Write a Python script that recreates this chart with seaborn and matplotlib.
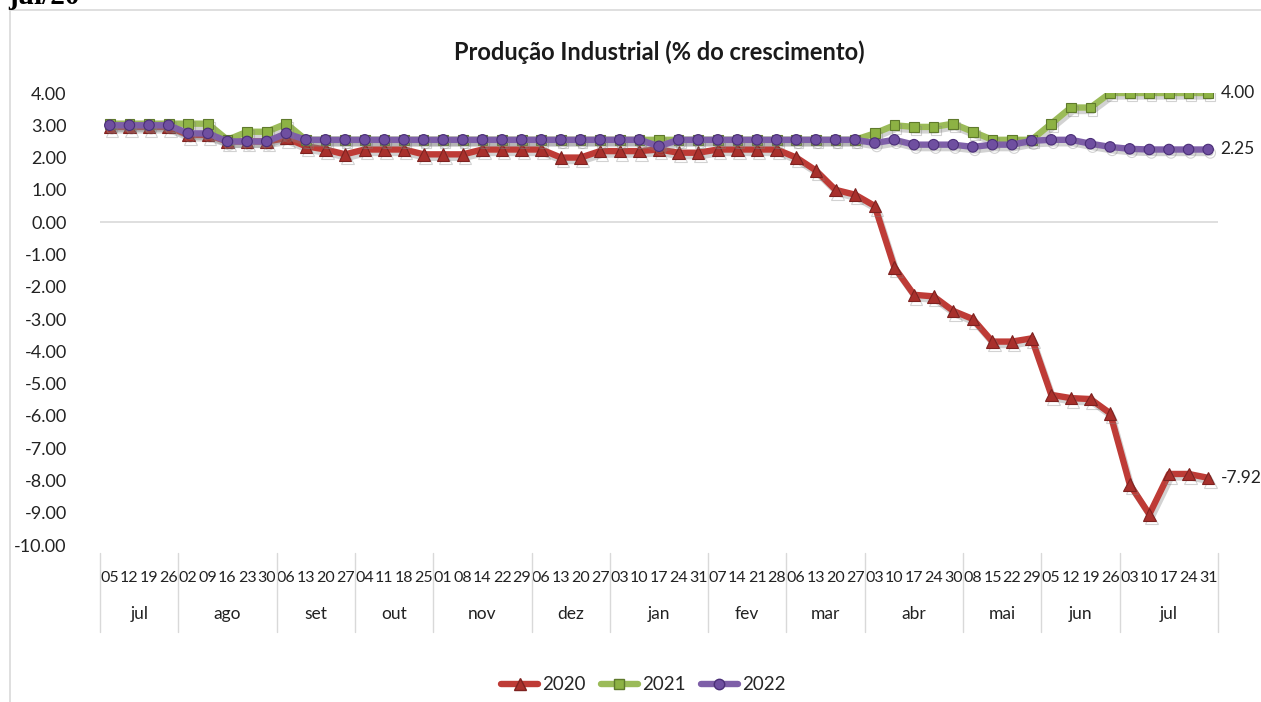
import matplotlib
matplotlib.use("Agg")
import matplotlib.pyplot as plt
import matplotlib.patheffects as pe
import matplotlib.transforms as mtransforms
from matplotlib.lines import Line2D
import numpy as np
import pandas as pd
import seaborn as sns

# ---- data -------------------------------------------------------------
months = ["jul", "ago", "set", "out", "nov", "dez", "jan", "fev",
          "mar", "abr", "mai", "jun", "jul"]
days = [
    ["05", "12", "19", "26"],
    ["02", "09", "16", "23", "30"],
    ["06", "13", "20", "27"],
    ["04", "11", "18", "25"],
    ["01", "08", "14", "22", "29"],
    ["06", "13", "20", "27"],
    ["03", "10", "17", "24", "31"],
    ["07", "14", "21", "28"],
    ["06", "13", "20", "27"],
    ["03", "10", "17", "24", "30"],
    ["08", "15", "22", "29"],
    ["05", "12", "19", "26"],
    ["03", "10", "17", "24", "31"],
]

y2020 = [2.95, 2.95, 2.95, 2.95,
         2.70, 2.70, 2.50, 2.50, 2.50,
         2.60, 2.35, 2.25, 2.10,
         2.25, 2.25, 2.25, 2.10,
         2.10, 2.10, 2.25, 2.25, 2.25,
         2.25, 2.00, 2.00, 2.20,
         2.20, 2.20, 2.25, 2.15, 2.15,
         2.25, 2.25, 2.25, 2.25,
         2.00, 1.60, 1.00, 0.85,
         0.50, -1.40, -2.25, -2.30, -2.75,
         -3.00, -3.70, -3.70, -3.60,
         -5.35, -5.45, -5.48, -5.92,
         -8.12, -9.05, -7.80, -7.80, -7.92]

y2021 = [3.05, 3.05, 3.05, 3.05,
         3.05, 3.05, 2.55, 2.80, 2.80,
         3.05, 2.55, 2.55, 2.55,
         2.55, 2.55, 2.55, 2.55,
         2.55, 2.55, 2.55, 2.55, 2.55,
         2.55, 2.55, 2.55, 2.55,
         2.55, 2.55, 2.55, 2.55, 2.55,
         2.55, 2.55, 2.55, 2.55,
         2.55, 2.55, 2.55, 2.55,
         2.75, 3.00, 2.95, 2.95, 3.05,
         2.80, 2.55, 2.55, 2.55,
         3.05, 3.55, 3.55, 4.00,
         4.00, 4.00, 4.00, 4.00, 4.00]

y2022 = [3.00, 3.00, 3.00, 3.00,
         2.75, 2.75, 2.50, 2.50, 2.50,
         2.75, 2.55, 2.55, 2.55,
         2.55, 2.55, 2.55, 2.55,
         2.55, 2.55, 2.55, 2.55, 2.55,
         2.55, 2.55, 2.55, 2.55,
         2.55, 2.55, 2.35, 2.55, 2.55,
         2.55, 2.55, 2.55, 2.55,
         2.55, 2.55, 2.55, 2.55,
         2.45, 2.55, 2.40, 2.40, 2.40,
         2.33, 2.40, 2.40, 2.52,
         2.55, 2.55, 2.43, 2.33,
         2.27, 2.25, 2.25, 2.25, 2.25]

series_names = ["2020", "2021", "2022"]
yticks = list(range(-10, 5))

# ---- long table -------------------------------------------------------
day_labels = [d for grp in days for d in grp]
n = len(day_labels)
pos = np.arange(n)
df = pd.concat([
    pd.DataFrame({"pos": pos, "valor": vals, "ano": name})
    for name, vals in zip(series_names, [y2020, y2021, y2022])
], ignore_index=True)

# ---- style ------------------------------------------------------------
sns.set_theme(style="white")
plt.rcParams["font.family"] = ["Lato", "DejaVu Sans"]

W, H = 1261, 702
fig = plt.figure(figsize=(W / 100, H / 100), dpi=100)
fig.patch.set_facecolor("white")

# chart-area frame
frame_col = "#D9D9D9"
fig.add_artist(Line2D([10 / W, 1.0], [1 - 10 / H, 1 - 10 / H],
                      transform=fig.transFigure, color=frame_col, lw=1.2))
fig.add_artist(Line2D([10 / W, 10 / W], [0.0, 1 - 10 / H],
                      transform=fig.transFigure, color=frame_col, lw=1.2))

# heading running off the top edge
fig.text(8 / W, 1 - 4 / H, "jul/20", family=["Liberation Serif", "DejaVu Serif"],
         weight="bold", fontsize=21, ha="left", va="baseline", color="black")

left, right, top, bottom = 100, 1218, 93, 545
ax = fig.add_axes([left / W, 1 - bottom / H, (right - left) / W, (bottom - top) / H])
ax.set_facecolor("none")

styles = {
    "2020": dict(color="#BE3B36", marker="^", mfc="#A8302C", mec="#7E2220", ms=9.0, z=3),
    "2021": dict(color="#9BBB59", marker="s", mfc="#8DB244", mec="#5F7A2C", ms=7.0, z=4),
    "2022": dict(color="#7E5FA8", marker="o", mfc="#6F4FA0", mec="#4B2F78", ms=7.5, z=5),
}
shadow = [pe.SimpleLineShadow(offset=(1.5, -2.5), shadow_color="#808080", alpha=0.35),
          pe.Normal()]

for name in series_names:
    st = styles[name]
    sub = df[df["ano"] == name]
    sns.lineplot(data=sub, x="pos", y="valor", ax=ax, color=st["color"],
                 linewidth=4.6, marker=st["marker"], markersize=st["ms"],
                 markerfacecolor=st["mfc"], markeredgecolor=st["mec"],
                 markeredgewidth=0.8, zorder=st["z"], legend=False,
                 path_effects=shadow)

# value labels at the last point
for name, vals in zip(series_names, [y2020, y2021, y2022]):
    ax.annotate(f"{vals[-1]:.2f}", xy=(pos[-1], vals[-1]), xytext=(9, 0),
                textcoords="offset points", ha="left", va="center",
                fontsize=12.5, color="#222222", annotation_clip=False)

ax.axhline(0, color="#D9D9D9", lw=1.2, zorder=1)

ax.set_xlim(-0.5, n - 0.5)
ax.set_ylim(min(yticks), max(yticks))
ax.set_yticks(yticks)
ax.set_yticklabels([f"{v:.2f}" for v in yticks])
ax.set_xticks(pos)
ax.set_xticklabels(day_labels)
ax.tick_params(axis="y", length=0, pad=24, labelsize=13, labelcolor="#222222")
ax.tick_params(axis="x", length=0, pad=19, labelsize=11.5, labelcolor="#222222")
ax.set_xlabel("")
ax.set_ylabel("")
for s in ax.spines.values():
    s.set_visible(False)

# month row and group separators
trans = mtransforms.blended_transform_factory(ax.transData, ax.transAxes)
sizes = [len(g) for g in days]
edges = np.concatenate([[0], np.cumsum(sizes)]) - 0.5
y_top = -(553 - bottom) / (bottom - top)
y_bot = -(632 - bottom) / (bottom - top)
y_mon = -(614 - bottom) / (bottom - top)
for e in edges:
    ax.plot([e, e], [y_top, y_bot], transform=trans, color="#D9D9D9",
            lw=1.0, clip_on=False)
for m, a, b in zip(months, edges[:-1], edges[1:]):
    ax.text((a + b) / 2, y_mon, m, transform=trans, ha="center", va="center",
            fontsize=12.5, color="#222222")

ax.set_title("Produção Industrial (% do crescimento)", fontsize=17,
             fontweight="bold", color="#1a1a1a", pad=24)

handles = [Line2D([0], [0], color=styles[nm]["color"], lw=4.6,
                  marker=styles[nm]["marker"], markersize=styles[nm]["ms"],
                  markerfacecolor=styles[nm]["mfc"], markeredgecolor=styles[nm]["mec"])
           for nm in series_names]
fig.legend(handles, series_names, loc="center", bbox_to_anchor=(0.51, 1 - 685 / H),
           ncol=3, frameon=False, fontsize=13.5, handlelength=2.0,
           columnspacing=0.8, handletextpad=0.2)

fig.savefig("out.png", dpi=100)
